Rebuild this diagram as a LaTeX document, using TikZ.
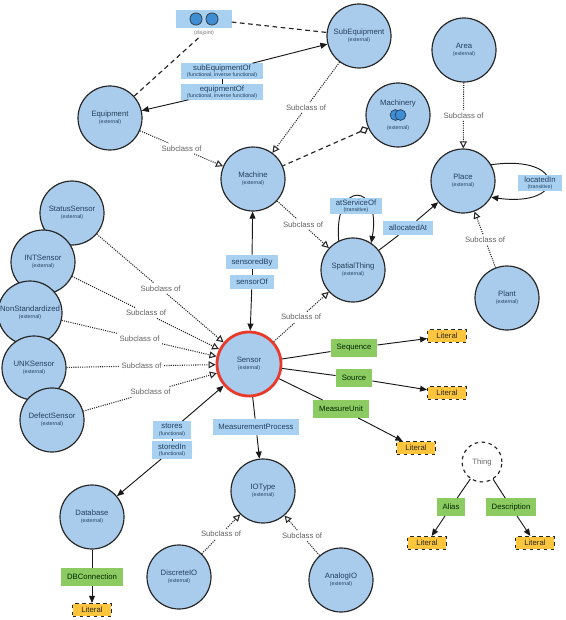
\documentclass[tikz,border=0pt]{standalone}
\usepackage{fontspec}
\setmainfont{Liberation Sans}
\usetikzlibrary{calc, arrows.meta, positioning, backgrounds}

\definecolor{clsblue}{HTML}{A9CCEC}
\definecolor{propblue}{HTML}{A8D0F0}
\definecolor{dpgreen}{HTML}{8CCB62}
\definecolor{litgold}{HTML}{FFC63D}
\definecolor{sensred}{HTML}{E8392A}
\definecolor{txtnavy}{HTML}{24405E}
\definecolor{iconblue}{HTML}{3F8DD3}

\newcommand{\lblfont}{\fontsize{6.6}{7.2}\selectfont}
\newcommand{\smallnote}[1]{{\fontsize{4.5}{5}\selectfont(#1)}}
\newcommand{\cls}[1]{#1\\[-1.5pt]\smallnote{external}}
\newcommand{\prp}[2]{#1\\[-2pt]\smallnote{#2}}

\tikzset{
  cls/.style={circle, draw=black!85, line width=1pt, fill=clsblue,
    minimum size=1.92cm, inner sep=0pt, align=center, text=txtnavy, font=\lblfont},
  prop/.style={rectangle, fill=propblue, minimum height=12pt, inner xsep=5pt,
    inner ysep=1pt, align=center, text=txtnavy, font=\lblfont},
  dprop/.style={rectangle, fill=dpgreen, minimum height=15pt, inner xsep=5pt,
    text=black!85!green, font=\lblfont},
  lit/.style={rectangle, fill=litgold, draw=black!85, dashed, line width=1pt,
    minimum width=33pt, minimum height=11pt, inner sep=1pt, text=black!85, font=\lblfont},
  sublbl/.style={text=black!62, font=\lblfont, inner sep=2pt},
  subln/.style={densely dotted, line width=0.9pt, black!85},
  subarr/.style={subln, -{Triangle[open, length=6pt, width=6pt]}},
  dashln/.style={dash pattern=on 4pt off 3pt, line width=1pt, black!85},
  rel/.style={line width=0.8pt, black!90}
}

\begin{document}
\begin{tikzpicture}[x=0.03cm, y=-0.03cm, >={Triangle[length=6pt, width=5pt]}]
    \useasboundingbox (0,0) rectangle (566,620);

    % --- Classes ---
    \node[cls] (SubEquipment) at (359,36) {\cls{SubEquipment}};
    \node[cls] (Equipment) at (110,118) {\cls{Equipment}};
    \node[cls] (Machine) at (253,179) {\cls{Machine}};
    \node[cls] (Machinery) at (398,115) {Machinery\\[13pt]\smallnote{external}};
    \node[cls] (Area) at (464,50) {\cls{Area}};
    \node[cls] (Place) at (463,181) {\cls{Place}};
    \node[cls] (SpatialThing) at (353,270) {\cls{SpatialThing}};
    \node[cls] (Plant) at (507,298) {\cls{Plant}};

    \node[cls] (StatusSensor) at (72,213) {\cls{StatusSensor}};
    \node[cls] (INTSensor) at (43,262) {\cls{INTSensor}};
    \node[cls] (NonStandardized) at (30,313) {\cls{NonStandardized}};
    \node[cls] (UNKSensor) at (34,368) {\cls{UNKSensor}};
    \node[cls] (DefectSensor) at (52,420) {\cls{DefectSensor}};

    \node[cls, draw=sensred, line width=2.4pt] (Sensor) at (249,364) {\cls{Sensor}};
    \node[cls] (Database) at (92,517) {\cls{Database}};
    \node[cls] (IOType) at (263,491) {\cls{IOType}};
    \node[cls] (DiscreteIO) at (179,577) {\cls{DiscreteIO}};
    \node[cls] (AnalogIO) at (341,580) {\cls{AnalogIO}};
    \node[circle, draw=black!85, dashed, line width=1pt, fill=white, minimum size=34pt,
      text=black!60, font=\lblfont] (Thing) at (482,462) {Thing};

    % --- Machinery icon ---
    \draw[txtnavy, fill=iconblue, line width=0.6pt] ($(Machinery)+(-2.5,0)$) circle (4.6pt);
    \draw[txtnavy, fill=iconblue, line width=0.6pt] ($(Machinery)+(2.5,0)$) circle (4.6pt);

    % --- Disjoint marker ---
    \node[rectangle, fill=propblue, minimum width=47pt, minimum height=15pt] (disj) at (204,19) {};
    \draw[black!80, fill=iconblue, line width=0.6pt] ($(disj)+(-8,0)$) circle (5.2pt);
    \draw[black!80, fill=iconblue, line width=0.6pt] ($(disj)+(8,0)$) circle (5.2pt);
    \node[text=black!55, inner sep=1pt] (disjLbl) at (204,33) {\smallnote{disjoint}};
    \draw[dashln] (Equipment) -- (disjLbl);
    \draw[dashln] (disj) -- (SubEquipment);

    % --- Subclass of ---
    \foreach \sub/\sup in {Equipment/Machine, SubEquipment/Machine, Area/Place, Plant/Place,
        Machine/SpatialThing, Sensor/SpatialThing, StatusSensor/Sensor, INTSensor/Sensor,
        NonStandardized/Sensor, UNKSensor/Sensor, DefectSensor/Sensor,
        DiscreteIO/IOType, AnalogIO/IOType} {
      \node[sublbl] (sc-\sub-\sup) at ($(\sub)!0.5!(\sup)$) {Subclass of};
      \draw[subln] (\sub) -- (sc-\sub-\sup);
      \draw[subarr] (sc-\sub-\sup) -- (\sup);
    }

    \draw[dashln, {Diamond[open, length=8pt, width=7pt]}-] (Machinery) -- (Machine);

    % --- Object properties ---
    \node[prop] (subEqOf) at (222,71) {\prp{subEquipmentOf}{functional, inverse functional}};
    \node[prop] (eqOf) at (222,92) {\prp{equipmentOf}{functional, inverse functional}};
    \draw[rel, ->] (subEqOf) -- (SubEquipment);
    \draw[rel, ->] (eqOf) -- (Equipment);
    \draw[rel] (subEqOf) -- (eqOf);

    \node[prop] (sensoredBy) at (252,262) {sensoredBy};
    \node[prop] (sensorOf) at (252,282) {sensorOf};
    \draw[rel, ->] (sensoredBy) -- (Machine);
    \draw[rel, ->] (sensorOf) -- (Sensor);
    \draw[rel] (sensoredBy) -- (sensorOf);

    \node[prop] (atServiceOf) at (356,206) {\prp{atServiceOf}{transitive}};
    \node[prop] (allocatedAt) at (408,228) {allocatedAt};
    \node[prop] (locatedIn) at (540,183) {\prp{locatedIn}{transitive}};
    \draw[rel] (SpatialThing) -- (allocatedAt);
    \draw[rel, ->] (allocatedAt) -- (Place);
    \begin{scope}[on background layer]
      \draw[rel, ->] (SpatialThing.116) .. controls +(95:1.85cm) and +(80:1.85cm) .. (SpatialThing.56);
      \draw[rel, ->] (Place.30) .. controls +(8:2.3cm) and +(-8:2.3cm) .. (Place.-30);
    \end{scope}

    \node[prop, minimum height=15pt] (stores) at (172,430) {\prp{stores}{functional}};
    \node[prop, minimum height=15pt] (storedIn) at (172,450) {\prp{storedIn}{functional}};
    \draw[rel, ->] (stores) -- (Sensor);
    \draw[rel, ->] (storedIn) -- (Database);
    \draw[rel] (stores) -- (storedIn);

    \node[prop, minimum height=14pt] (measProc) at (256,427) {MeasurementProcess};
    \draw[rel] (Sensor) -- (measProc);
    \draw[rel, ->] (measProc) -- (IOType);

    % --- Data properties ---
    \node[dprop] (Sequence) at (354,348) {Sequence};
    \node[dprop] (Source) at (354,378) {Source};
    \node[dprop] (MeasureUnit) at (341,409) {MeasureUnit};
    \node[dprop] (DBConnection) at (92,577) {DBConnection};
    \node[dprop] (Alias) at (451,507) {Alias};
    \node[dprop] (Description) at (511,507) {Description};

    \node[lit] (litSeq) at (447,336) {Literal};
    \node[lit] (litSrc) at (447,393) {Literal};
    \node[lit] (litUnit) at (416,448) {Literal};
    \node[lit] (litDB) at (92,610) {Literal};
    \node[lit] (litAlias) at (427,543) {Literal};
    \node[lit] (litDesc) at (535,543) {Literal};

    \foreach \src/\dp/\lit in {Sensor/Sequence/litSeq, Sensor/Source/litSrc,
        Sensor/MeasureUnit/litUnit, Database/DBConnection/litDB,
        Thing/Alias/litAlias, Thing/Description/litDesc} {
      \draw[rel] (\src) -- (\dp);
      \draw[rel, ->] (\dp) -- (\lit);
    }
\end{tikzpicture}
\end{document}
